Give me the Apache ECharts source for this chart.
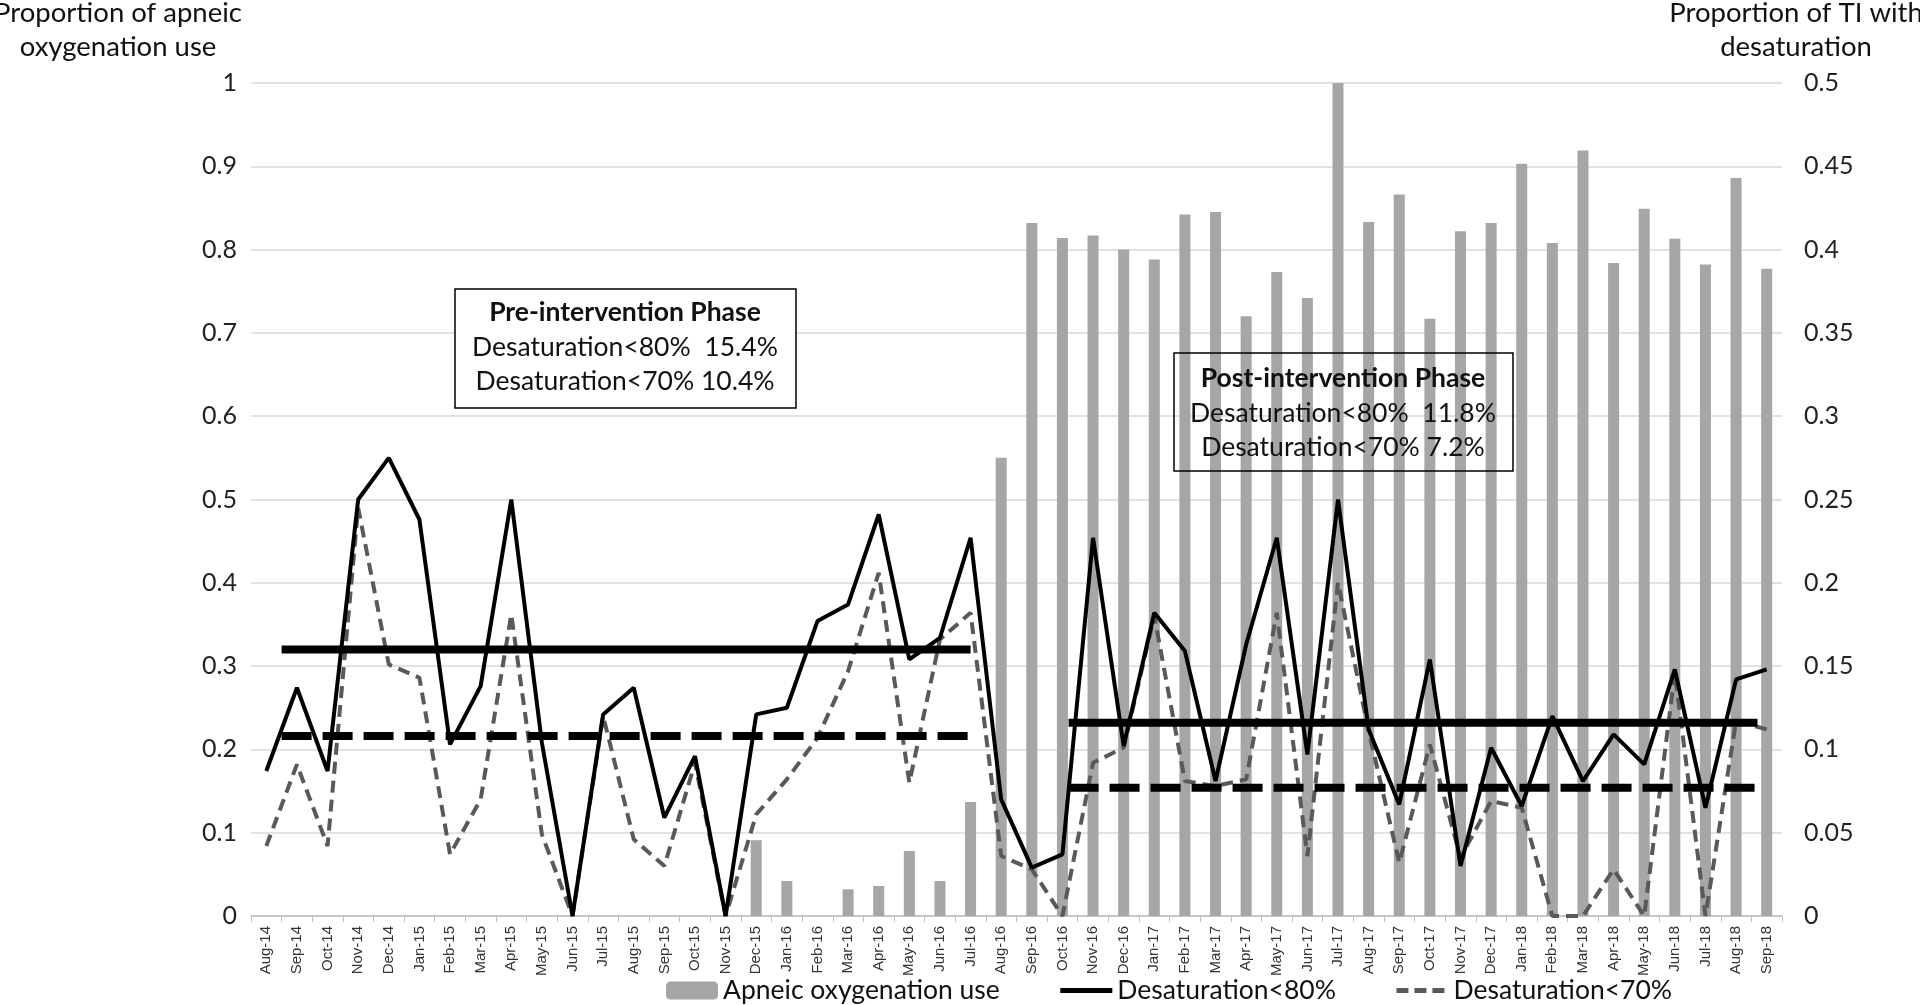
<!DOCTYPE html>
<html>
<head>
<meta charset="utf-8">
<script src="https://cdn.jsdelivr.net/npm/echarts@6/dist/echarts.min.js"></script>
<style>
html,body{margin:0;padding:0;background:#fff;}
#chart{width:1920px;height:1005px;}
</style>
</head>
<body>
<div id="chart"></div>
<script>
var categories = ["Aug-14","Sep-14","Oct-14","Nov-14","Dec-14","Jan-15","Feb-15","Mar-15","Apr-15","May-15","Jun-15","Jul-15","Aug-15","Sep-15","Oct-15","Nov-15","Dec-15","Jan-16","Feb-16","Mar-16","Apr-16","May-16","Jun-16","Jul-16","Aug-16","Sep-16","Oct-16","Nov-16","Dec-16","Jan-17","Feb-17","Mar-17","Apr-17","May-17","Jun-17","Jul-17","Aug-17","Sep-17","Oct-17","Nov-17","Dec-17","Jan-18","Feb-18","Mar-18","Apr-18","May-18","Jun-18","Jul-18","Aug-18","Sep-18"];

var apneicUse = [0,0,0,0,0,0,0,0,0,0,0,0,0,0,0,0,0.091,0.042,0,0.032,0.036,0.078,0.042,0.137,0.55,0.832,0.814,0.817,0.80,0.788,0.842,0.845,0.72,0.773,0.742,1.0,0.833,0.866,0.717,0.822,0.832,0.903,0.808,0.919,0.784,0.849,0.813,0.782,0.886,0.777];

var desat80 = [0.087,0.137,0.087,0.25,0.275,0.238,0.103,0.138,0.25,0.104,0,0.121,0.137,0.059,0.096,0,0.121,0.125,0.177,0.187,0.241,0.154,0.167,0.227,0.07,0.029,0.037,0.227,0.102,0.182,0.159,0.081,0.163,0.227,0.097,0.25,0.112,0.067,0.154,0.030,0.101,0.066,0.12,0.081,0.109,0.091,0.148,0.065,0.142,0.148];

var desat70 = [0.042,0.091,0.042,0.245,0.151,0.143,0.037,0.07,0.181,0.049,0,0.12,0.046,0.03,0.092,0,0.061,0.082,0.107,0.147,0.206,0.08,0.166,0.182,0.036,0.028,0,0.092,0.101,0.18,0.081,0.078,0.082,0.182,0.036,0.2,0.111,0.032,0.103,0.035,0.069,0.065,0,0,0.028,0,0.146,0,0.117,0.112];

// phase means (right axis) and their spans in category index units
var preSpan = [0.5, 23];
var postSpan = [26.2, 48.7];
var preMean80 = 0.16, preMean70 = 0.108;
var postMean80 = 0.116, postMean70 = 0.077;

var leftTicks = {min: 0, max: 1, interval: 0.1};
var rightTicks = {min: 0, max: 0.5, interval: 0.05};

var FONT = 'Lato';

function span(s, v){ return [[s[0], v], [s[1], v]]; }

var chart = echarts.init(document.getElementById('chart'));
chart.setOption({
  backgroundColor: '#fff',
  animation: false,
  grid: {left: 251, right: 138, top: 83, bottom: 89},
  xAxis: [{
    type: 'category',
    data: categories,
    boundaryGap: true,
    axisLine: {lineStyle: {color: '#bfbfbf', width: 1.5}},
    axisTick: {show: true, length: 6, lineStyle: {color: '#bfbfbf'}},
    axisLabel: {interval: 0, rotate: 90, fontSize: 15, fontFamily: 'Liberation Sans', color: '#333', margin: 10},
    splitLine: {show: false}
  }, {
    type: 'value',
    min: -0.5, max: 49.5,
    show: false
  }],
  yAxis: [{
    type: 'value',
    min: leftTicks.min, max: leftTicks.max, interval: leftTicks.interval,
    axisLine: {show: false}, axisTick: {show: false},
    axisLabel: {fontSize: 25, fontFamily: FONT, color: '#222', margin: 14},
    splitLine: {lineStyle: {color: '#d9d9d9', width: 1.5}}
  }, {
    type: 'value',
    min: rightTicks.min, max: rightTicks.max, interval: rightTicks.interval,
    axisLine: {show: false}, axisTick: {show: false},
    axisLabel: {fontSize: 25, fontFamily: FONT, color: '#222', margin: 22},
    splitLine: {show: false}
  }],
  legend: {
    data: [
      {name: 'Apneic oxygenation use'},
      {name: 'Desaturation<80%', itemStyle: {opacity: 0}, lineStyle: {width: 5}},
      {name: 'Desaturation<70%', itemStyle: {opacity: 0}, lineStyle: {width: 5, type: [12, 6]}}
    ],
    left: 661, top: 972,
    itemWidth: 52, itemHeight: 18, itemGap: 58,
    textStyle: {fontSize: 26.5, fontFamily: FONT, color: '#111'}
  },
  series: [{
    name: 'Apneic oxygenation use',
    type: 'bar',
    data: apneicUse,
    yAxisIndex: 0,
    barWidth: '36%',
    itemStyle: {color: '#a6a6a6'}
  }, {
    name: 'Desaturation<80%',
    type: 'line',
    data: desat80,
    yAxisIndex: 1,
    symbol: 'none',
    lineStyle: {color: '#000', width: 4},
    itemStyle: {color: '#000'},
    z: 5
  }, {
    name: 'Desaturation<70%',
    type: 'line',
    data: desat70,
    yAxisIndex: 1,
    symbol: 'none',
    lineStyle: {color: '#595959', width: 4, type: [12, 7]},
    itemStyle: {color: '#595959'},
    z: 4
  }, {
    name: 'preMean80', type: 'line', xAxisIndex: 1, yAxisIndex: 1,
    data: span(preSpan, preMean80), symbol: 'none',
    lineStyle: {color: '#000', width: 8}, z: 6
  }, {
    name: 'preMean70', type: 'line', xAxisIndex: 1, yAxisIndex: 1,
    data: span(preSpan, preMean70), symbol: 'none',
    lineStyle: {color: '#000', width: 8, type: [30, 11]}, z: 6
  }, {
    name: 'postMean80', type: 'line', xAxisIndex: 1, yAxisIndex: 1,
    data: span(postSpan, postMean80), symbol: 'none',
    lineStyle: {color: '#000', width: 8}, z: 6
  }, {
    name: 'postMean70', type: 'line', xAxisIndex: 1, yAxisIndex: 1,
    data: span(postSpan, postMean70), symbol: 'none',
    lineStyle: {color: '#000', width: 8, type: [30, 11]}, z: 6
  }],
  graphic: [
    {type: 'text', z: 100, style: {x: 118, y: 13, text: 'Proportion of apneic', textAlign: 'center', textVerticalAlign: 'middle', font: '27.5px Lato', fill: '#111'}},
    {type: 'text', z: 100, style: {x: 118, y: 47, text: 'oxygenation use', textAlign: 'center', textVerticalAlign: 'middle', font: '27.5px Lato', fill: '#111'}},
    {type: 'text', z: 100, style: {x: 1796, y: 13, text: 'Proportion of TI with', textAlign: 'center', textVerticalAlign: 'middle', font: '27.5px Lato', fill: '#111'}},
    {type: 'text', z: 100, style: {x: 1796, y: 47, text: 'desaturation', textAlign: 'center', textVerticalAlign: 'middle', font: '27.5px Lato', fill: '#111'}},
    {type: 'rect', z: 100, shape: {x: 455, y: 289, width: 341, height: 119}, style: {fill: '#fff', stroke: '#000', lineWidth: 1.5}},
    {type: 'text', z: 101, style: {x: 625, y: 312, text: 'Pre-intervention Phase', textAlign: 'center', textVerticalAlign: 'middle', font: 'bold 26.5px Lato', fill: '#111'}},
    {type: 'text', z: 101, style: {x: 625, y: 347, text: 'Desaturation<80%  15.4%', textAlign: 'center', textVerticalAlign: 'middle', font: '26.5px Lato', fill: '#111'}},
    {type: 'text', z: 101, style: {x: 625, y: 381, text: 'Desaturation<70% 10.4%', textAlign: 'center', textVerticalAlign: 'middle', font: '26.5px Lato', fill: '#111'}},
    {type: 'rect', z: 100, shape: {x: 1174, y: 353, width: 339, height: 118}, style: {fill: 'none', stroke: '#000', lineWidth: 1.5}},
    {type: 'text', z: 101, style: {x: 1343, y: 378, text: 'Post-intervention Phase', textAlign: 'center', textVerticalAlign: 'middle', font: 'bold 26.5px Lato', fill: '#111'}},
    {type: 'text', z: 101, style: {x: 1343, y: 413, text: 'Desaturation<80%  11.8%', textAlign: 'center', textVerticalAlign: 'middle', font: '26.5px Lato', fill: '#111'}},
    {type: 'text', z: 101, style: {x: 1343, y: 447, text: 'Desaturation<70% 7.2%', textAlign: 'center', textVerticalAlign: 'middle', font: '26.5px Lato', fill: '#111'}}
  ]
});
</script>
</body>
</html>
